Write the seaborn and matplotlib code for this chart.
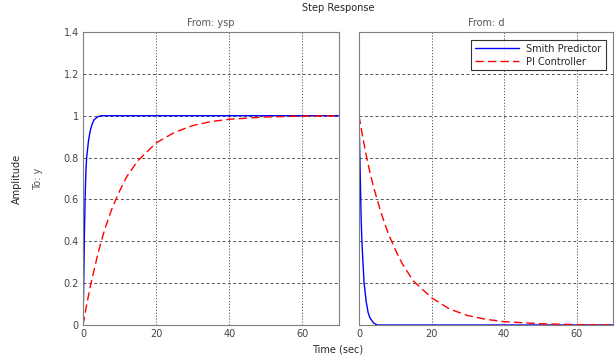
import numpy as np
import pandas as pd
import seaborn as sns
import matplotlib
matplotlib.use("Agg")
import matplotlib.pyplot as plt

# step from setpoint ysp -> y
t_sp_smith = [0, 0.2, 0.4, 0.6, 0.8, 1.0, 1.5, 2.0, 2.5, 3.0, 4.0, 5.0, 70]
y_sp_smith = [0, 0.2, 0.45, 0.62, 0.74, 0.8, 0.88, 0.93, 0.96, 0.98, 0.995, 1.0, 1.0]
t_sp_pi = [0, 1, 2, 3, 4, 5, 6, 8, 10, 12, 15, 20, 25, 30, 35, 40, 50, 60, 70]
y_sp_pi = [0, 0.097, 0.185, 0.26, 0.335, 0.4, 0.46, 0.56, 0.64, 0.71, 0.785, 0.87, 0.92, 0.953, 0.972, 0.983, 0.994, 0.998, 1.0]

# step from disturbance d -> y
t_d_smith = [0, 0.3, 0.6, 0.8, 1.0, 1.4, 2.0, 2.5, 3.0, 4.0, 5.0, 70]
y_d_smith = [1.0, 0.75, 0.5, 0.4, 0.33, 0.2, 0.11, 0.06, 0.035, 0.01, 0.0, 0.0]
t_d_pi = [0, 1, 2, 3, 4, 6, 8, 10, 12, 15, 20, 25, 30, 35, 40, 50, 60, 70]
y_d_pi = [1.0, 0.9, 0.81, 0.73, 0.66, 0.54, 0.44, 0.36, 0.29, 0.21, 0.13, 0.076, 0.045, 0.027, 0.016, 0.006, 0.002, 0.0]

series = ["Smith Predictor", "PI Controller"]
x_ticks = [0, 20, 40, 60]
y_ticks = [0, 0.2, 0.4, 0.6, 0.8, 1.0, 1.2, 1.4]
y_tick_labels = ["0", "0.2", "0.4", "0.6", "0.8", "1", "1.2", "1.4"]


def frame(t1, y1, t2, y2):
    a = pd.DataFrame({"t": t1, "y": y1, "ctrl": series[0]})
    b = pd.DataFrame({"t": t2, "y": y2, "ctrl": series[1]})
    return pd.concat([a, b], ignore_index=True)


sp = frame(t_sp_smith, y_sp_smith, t_sp_pi, y_sp_pi)
dist = frame(t_d_smith, y_d_smith, t_d_pi, y_d_pi)

sns.set_style("white")
plt.rcParams["font.family"] = ["DejaVu Sans"]
plt.rcParams["font.size"] = 7

fig = plt.figure(figsize=(6.15, 3.58), dpi=100)
ax1 = fig.add_axes([83 / 615, 33 / 358, 256 / 615, 293 / 358])
ax2 = fig.add_axes([359 / 615, 33 / 358, 254 / 615, 293 / 358])

palette = {series[0]: "#0000ff", series[1]: "#ff0000"}
dashes = {series[0]: "", series[1]: (6, 3)}

for ax, df in [(ax1, sp), (ax2, dist)]:
    sns.lineplot(data=df, x="t", y="y", hue="ctrl", style="ctrl", palette=palette,
                 dashes=dashes, linewidth=1.0, ax=ax, legend=(ax is ax2), sort=False)
    ax.set_xlim(0, 70)
    ax.set_ylim(0, 1.4)
    ax.set_xticks(x_ticks)
    ax.set_yticks(y_ticks)
    for yv in y_ticks[1:-1]:
        ax.axhline(yv, color="#555555", lw=0.7, ls=(0, (3, 2.5)), zorder=0)
    for xv in x_ticks[1:]:
        ax.axvline(xv, color="#555555", lw=0.7, ls=(0, (1.2, 1.8)), zorder=0)
    ax.set_xlabel("")
    ax.set_ylabel("")
    for s in ax.spines.values():
        s.set_color("#7f7f7f")
        s.set_linewidth(0.8)
    ax.tick_params(colors="#444444", labelsize=7, length=0, pad=3)

ax1.set_yticklabels(y_tick_labels)
ax2.set_yticklabels([])

leg = ax2.legend(loc="upper right", frameon=True, fancybox=False, fontsize=7,
                 edgecolor="black", handlelength=4.5, borderpad=0.4,
                 labelspacing=0.3, bbox_to_anchor=(0.99, 0.99))
leg.get_frame().set_linewidth(0.8)

ax1.set_title("From: ysp", fontsize=7, color="#555555", pad=4)
ax2.set_title("From: d", fontsize=7, color="#555555", pad=4)
fig.text(338 / 615, 1 - 8 / 358, "Step Response", ha="center", va="center", fontsize=7)
fig.text(338 / 615, 1 - 349 / 358, "Time (sec)", ha="center", va="center", fontsize=7)
fig.text(17 / 615, 0.5, "Amplitude", rotation=90, ha="center", va="center", fontsize=7)
fig.text(38 / 615, 0.5, "To: y", rotation=90, ha="center", va="center", fontsize=7, color="#555555")

fig.savefig("out.png", dpi=100)
